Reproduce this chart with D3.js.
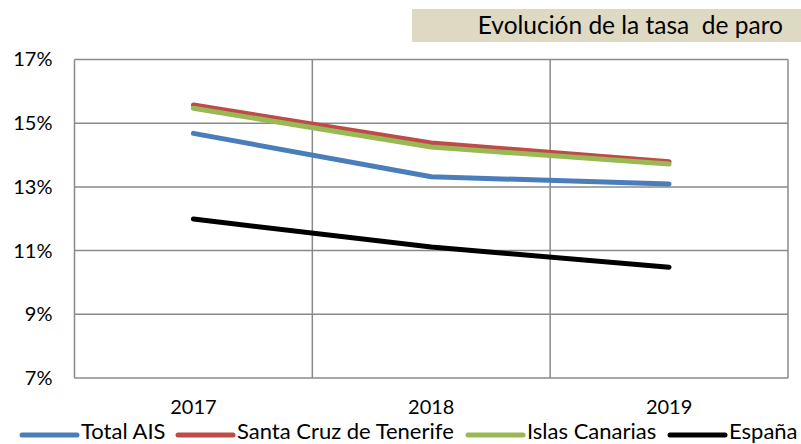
<!DOCTYPE html>
<html><head><meta charset="utf-8">
<script src="https://cdn.jsdelivr.net/npm/d3@7"></script>
<style>body{margin:0;background:#fff}svg{display:block}text{font-family:Lato,"Open Sans",sans-serif;fill:#000}</style>
</head><body><svg id="c" width="801" height="444"></svg>
<script>
const years = ["2017","2018","2019"];
const seriesNames = ["Total AIS","Santa Cruz de Tenerife","Islas Canarias","España"];
const totalAIS = [14.68, 13.32, 13.09];
const santaCruz = [15.57, 14.38, 13.79];
const islasCanarias = [15.47, 14.25, 13.72];
const espana = [11.99, 11.11, 10.48];
const yTicks = [7, 9, 11, 13, 15, 17];
const colors = ["#4A7EBB","#BE4B48","#98B954","#000000"];
const title = "Evolución de la tasa  de paro";

const svg = d3.select("#c");
const L = 74.5, R = 788, T = 59.5, B = 378;
const x = d3.scaleBand().domain(years).range([L, R]);
const y = d3.scaleLinear().domain([7, 17]).range([B, T]);

// title box
svg.append("rect").attr("x", 412).attr("y", 9).attr("width", 389).attr("height", 33).attr("fill", "#DDD9C3");
svg.append("text").attr("x", 783).attr("y", 34).attr("text-anchor", "end").attr("font-size", 24.5)
  .style("white-space", "pre").attr("xml:space", "preserve").text(title);

const grid = svg.append("g").attr("stroke", "#8a8a8a").attr("stroke-width", 1.5).attr("fill", "none");
yTicks.forEach(t => grid.append("line").attr("x1", L).attr("x2", R).attr("y1", y(t)).attr("y2", y(t)));
grid.append("line").attr("x1", L).attr("x2", L).attr("y1", T).attr("y2", B);
years.forEach(yr => grid.append("line").attr("x1", x(yr) + x.bandwidth()).attr("x2", x(yr) + x.bandwidth()).attr("y1", T).attr("y2", B));

const yAxis = d3.axisLeft(y).tickValues(yTicks).tickFormat(d => d + "%").tickSize(0).tickPadding(22);
const ga = svg.append("g").attr("transform", `translate(${L},0)`).call(yAxis);
ga.select(".domain").remove();
ga.selectAll("text").attr("font-size", 20).attr("font-family", "Lato");

const xAxis = d3.axisBottom(x).tickSize(0).tickPadding(22);
const gx = svg.append("g").attr("transform", `translate(0,${B})`).call(xAxis);
gx.select(".domain").remove();
gx.selectAll("text").attr("font-size", 20).attr("font-family", "Lato");

const data = [totalAIS, santaCruz, islasCanarias, espana];
const line = d3.line().x((d, i) => x(years[i]) + x.bandwidth() / 2).y(d => y(d));
data.forEach((s, k) => {
  svg.append("path").datum(s).attr("d", line).attr("fill", "none")
    .attr("stroke", colors[k]).attr("stroke-width", 5).attr("stroke-linecap", "round").attr("stroke-linejoin", "round");
});

// legend
const legX = [22, 178, 468, 670];
const lg = svg.append("g");
seriesNames.forEach((n, k) => {
  lg.append("line").attr("x1", legX[k]).attr("x2", legX[k] + 55).attr("y1", 435).attr("y2", 435)
    .attr("stroke", colors[k]).attr("stroke-width", 5).attr("stroke-linecap", "round");
  lg.append("text").attr("x", legX[k] + 59).attr("y", 439).attr("font-size", 22).text(n);
});
</script></body></html>
